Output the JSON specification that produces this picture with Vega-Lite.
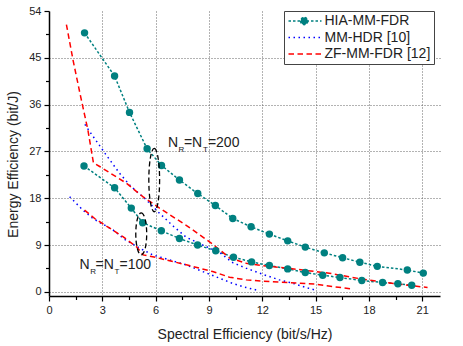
{
  "$schema": "https://vega.github.io/schema/vega-lite/v6.json",
  "width": 391,
  "height": 285,
  "autosize": {"type": "none"},
  "padding": {"left": 49, "top": 11, "right": 23, "bottom": 50},
  "background": "white",
  "config": {"font": "Liberation Sans", "view": {"stroke": null}},
  "datasets": {
    "curves": [
      {"s": "HIA-MM-FDR", "n": 200, "x": 2.0, "y": 49.8},
      {"s": "HIA-MM-FDR", "n": 200, "x": 3.69, "y": 41.5},
      {"s": "HIA-MM-FDR", "n": 200, "x": 4.53, "y": 34.5},
      {"s": "HIA-MM-FDR", "n": 200, "x": 5.52, "y": 27.5},
      {"s": "HIA-MM-FDR", "n": 200, "x": 6.33, "y": 24.3},
      {"s": "HIA-MM-FDR", "n": 200, "x": 7.34, "y": 21.5},
      {"s": "HIA-MM-FDR", "n": 200, "x": 8.37, "y": 18.9},
      {"s": "HIA-MM-FDR", "n": 200, "x": 9.36, "y": 16.6},
      {"s": "HIA-MM-FDR", "n": 200, "x": 10.34, "y": 14.1},
      {"s": "HIA-MM-FDR", "n": 200, "x": 11.37, "y": 12.5},
      {"s": "HIA-MM-FDR", "n": 200, "x": 12.4, "y": 11.1},
      {"s": "HIA-MM-FDR", "n": 200, "x": 13.43, "y": 9.8},
      {"s": "HIA-MM-FDR", "n": 200, "x": 14.42, "y": 8.6},
      {"s": "HIA-MM-FDR", "n": 200, "x": 15.49, "y": 7.5},
      {"s": "HIA-MM-FDR", "n": 200, "x": 16.52, "y": 6.55},
      {"s": "HIA-MM-FDR", "n": 200, "x": 17.49, "y": 5.7},
      {"s": "HIA-MM-FDR", "n": 200, "x": 18.47, "y": 4.9},
      {"s": "HIA-MM-FDR", "n": 200, "x": 20.16, "y": 4.2},
      {"s": "HIA-MM-FDR", "n": 200, "x": 21.06, "y": 3.6},
      {"s": "HIA-MM-FDR", "n": 100, "x": 1.97, "y": 24.2},
      {"s": "HIA-MM-FDR", "n": 100, "x": 3.69, "y": 20.0},
      {"s": "HIA-MM-FDR", "n": 100, "x": 4.63, "y": 16.1},
      {"s": "HIA-MM-FDR", "n": 100, "x": 5.27, "y": 13.3},
      {"s": "HIA-MM-FDR", "n": 100, "x": 6.32, "y": 11.75},
      {"s": "HIA-MM-FDR", "n": 100, "x": 7.34, "y": 10.25},
      {"s": "HIA-MM-FDR", "n": 100, "x": 8.36, "y": 9.0},
      {"s": "HIA-MM-FDR", "n": 100, "x": 9.38, "y": 7.9},
      {"s": "HIA-MM-FDR", "n": 100, "x": 10.38, "y": 6.65},
      {"s": "HIA-MM-FDR", "n": 100, "x": 11.4, "y": 5.76},
      {"s": "HIA-MM-FDR", "n": 100, "x": 12.4, "y": 5.05},
      {"s": "HIA-MM-FDR", "n": 100, "x": 13.43, "y": 4.41},
      {"s": "HIA-MM-FDR", "n": 100, "x": 14.42, "y": 3.71},
      {"s": "HIA-MM-FDR", "n": 100, "x": 15.4, "y": 3.2},
      {"s": "HIA-MM-FDR", "n": 100, "x": 16.37, "y": 2.75},
      {"s": "HIA-MM-FDR", "n": 100, "x": 17.6, "y": 2.17},
      {"s": "HIA-MM-FDR", "n": 100, "x": 18.77, "y": 1.79},
      {"s": "HIA-MM-FDR", "n": 100, "x": 19.63, "y": 1.54},
      {"s": "HIA-MM-FDR", "n": 100, "x": 20.41, "y": 1.28},
      {"s": "MM-HDR [10]", "n": 200, "x": 2.02, "y": 32.2},
      {"s": "MM-HDR [10]", "n": 200, "x": 2.29, "y": 30.8},
      {"s": "MM-HDR [10]", "n": 200, "x": 2.77, "y": 28.5},
      {"s": "MM-HDR [10]", "n": 200, "x": 3.22, "y": 26.3},
      {"s": "MM-HDR [10]", "n": 200, "x": 3.97, "y": 22.8},
      {"s": "MM-HDR [10]", "n": 200, "x": 4.6, "y": 20.3},
      {"s": "MM-HDR [10]", "n": 200, "x": 5.47, "y": 17.7},
      {"s": "MM-HDR [10]", "n": 200, "x": 6.22, "y": 15.1},
      {"s": "MM-HDR [10]", "n": 200, "x": 7.0, "y": 12.6},
      {"s": "MM-HDR [10]", "n": 200, "x": 7.72, "y": 10.5},
      {"s": "MM-HDR [10]", "n": 200, "x": 8.84, "y": 8.7},
      {"s": "MM-HDR [10]", "n": 200, "x": 9.59, "y": 7.6},
      {"s": "MM-HDR [10]", "n": 200, "x": 10.34, "y": 5.6},
      {"s": "MM-HDR [10]", "n": 200, "x": 11.09, "y": 4.55},
      {"s": "MM-HDR [10]", "n": 200, "x": 12.0, "y": 3.4},
      {"s": "MM-HDR [10]", "n": 200, "x": 12.96, "y": 2.3},
      {"s": "MM-HDR [10]", "n": 200, "x": 13.7, "y": 1.67},
      {"s": "MM-HDR [10]", "n": 200, "x": 14.46, "y": 0.83},
      {"s": "MM-HDR [10]", "n": 200, "x": 15.02, "y": 0.3},
      {"s": "MM-HDR [10]", "n": 100, "x": 1.16, "y": 18.3},
      {"s": "MM-HDR [10]", "n": 100, "x": 1.91, "y": 15.7},
      {"s": "MM-HDR [10]", "n": 100, "x": 2.47, "y": 14.1},
      {"s": "MM-HDR [10]", "n": 100, "x": 3.6, "y": 11.9},
      {"s": "MM-HDR [10]", "n": 100, "x": 4.25, "y": 10.1},
      {"s": "MM-HDR [10]", "n": 100, "x": 5.1, "y": 8.4},
      {"s": "MM-HDR [10]", "n": 100, "x": 5.84, "y": 7.1},
      {"s": "MM-HDR [10]", "n": 100, "x": 6.78, "y": 6.14},
      {"s": "MM-HDR [10]", "n": 100, "x": 7.72, "y": 5.18},
      {"s": "MM-HDR [10]", "n": 100, "x": 8.65, "y": 3.9},
      {"s": "MM-HDR [10]", "n": 100, "x": 9.59, "y": 2.63},
      {"s": "MM-HDR [10]", "n": 100, "x": 10.34, "y": 1.6},
      {"s": "MM-HDR [10]", "n": 100, "x": 11.09, "y": 0.83},
      {"s": "MM-HDR [10]", "n": 100, "x": 11.74, "y": 0.3},
      {"s": "ZF-MM-FDR [12]", "n": 200, "x": 0.98, "y": 51.4},
      {"s": "ZF-MM-FDR [12]", "n": 200, "x": 1.35, "y": 44.6},
      {"s": "ZF-MM-FDR [12]", "n": 200, "x": 1.82, "y": 36.9},
      {"s": "ZF-MM-FDR [12]", "n": 200, "x": 2.19, "y": 31.1},
      {"s": "ZF-MM-FDR [12]", "n": 200, "x": 2.44, "y": 26.0},
      {"s": "ZF-MM-FDR [12]", "n": 200, "x": 2.5, "y": 24.8},
      {"s": "ZF-MM-FDR [12]", "n": 200, "x": 2.85, "y": 24.1},
      {"s": "ZF-MM-FDR [12]", "n": 200, "x": 4.35, "y": 20.9},
      {"s": "ZF-MM-FDR [12]", "n": 200, "x": 5.28, "y": 18.3},
      {"s": "ZF-MM-FDR [12]", "n": 200, "x": 6.22, "y": 16.1},
      {"s": "ZF-MM-FDR [12]", "n": 200, "x": 7.72, "y": 12.8},
      {"s": "ZF-MM-FDR [12]", "n": 200, "x": 9.2, "y": 9.2},
      {"s": "ZF-MM-FDR [12]", "n": 200, "x": 10.17, "y": 6.5},
      {"s": "ZF-MM-FDR [12]", "n": 200, "x": 11.09, "y": 5.5},
      {"s": "ZF-MM-FDR [12]", "n": 200, "x": 12.02, "y": 5.05},
      {"s": "ZF-MM-FDR [12]", "n": 200, "x": 13.9, "y": 4.35},
      {"s": "ZF-MM-FDR [12]", "n": 200, "x": 15.77, "y": 3.58},
      {"s": "ZF-MM-FDR [12]", "n": 200, "x": 17.64, "y": 2.43},
      {"s": "ZF-MM-FDR [12]", "n": 200, "x": 19.52, "y": 1.54},
      {"s": "ZF-MM-FDR [12]", "n": 200, "x": 21.3, "y": 0.83},
      {"s": "ZF-MM-FDR [12]", "n": 100, "x": 2.0, "y": 15.7},
      {"s": "ZF-MM-FDR [12]", "n": 100, "x": 2.57, "y": 14.1},
      {"s": "ZF-MM-FDR [12]", "n": 100, "x": 3.3, "y": 12.5},
      {"s": "ZF-MM-FDR [12]", "n": 100, "x": 4.16, "y": 10.6},
      {"s": "ZF-MM-FDR [12]", "n": 100, "x": 4.91, "y": 8.7},
      {"s": "ZF-MM-FDR [12]", "n": 100, "x": 5.3, "y": 7.1},
      {"s": "ZF-MM-FDR [12]", "n": 100, "x": 6.03, "y": 6.6},
      {"s": "ZF-MM-FDR [12]", "n": 100, "x": 7.72, "y": 5.2},
      {"s": "ZF-MM-FDR [12]", "n": 100, "x": 9.21, "y": 3.9},
      {"s": "ZF-MM-FDR [12]", "n": 100, "x": 10.15, "y": 2.82},
      {"s": "ZF-MM-FDR [12]", "n": 100, "x": 11.09, "y": 2.3},
      {"s": "ZF-MM-FDR [12]", "n": 100, "x": 12.4, "y": 1.98},
      {"s": "ZF-MM-FDR [12]", "n": 100, "x": 13.52, "y": 1.79},
      {"s": "ZF-MM-FDR [12]", "n": 100, "x": 15.02, "y": 1.47},
      {"s": "ZF-MM-FDR [12]", "n": 100, "x": 15.96, "y": 1.02},
      {"s": "ZF-MM-FDR [12]", "n": 100, "x": 16.99, "y": 0.58}
    ],
    "ann": [
      {"x": 6.69, "y": 27.9, "num": "=200"},
      {"x": 1.72, "y": 4.36, "num": "=100"}
    ],
    "ell": [
      {"n": 200, "x": 5.92, "y": 21.5},
      {"n": 100, "x": 5.19, "y": 11.15}
    ]
  },
  "encoding": {
    "x": {
      "field": "x", "type": "quantitative",
      "scale": {"domain": [0, 22], "nice": false, "zero": false},
      "axis": {
        "title": "Spectral Efficiency (bit/s/Hz)",
        "values": [0, 1.5, 3, 4.5, 6, 7.5, 9, 10.5, 12, 13.5, 15, 16.5, 18, 19.5, 21],
        "labelExpr": "datum.value % 3 === 0 ? datum.label : ''",
        "tickSize": {"condition": {"test": "datum.value % 3 === 0", "value": 5}, "value": 3.5},
        "grid": true,
        "gridDash": [1, 2],
        "gridColor": "#666",
        "gridWidth": 1,
        "gridOpacity": {"condition": {"test": "datum.value % 3 === 0 && datum.value > 0", "value": 1}, "value": 0},
        "domainColor": "black", "domainWidth": 1.5,
        "tickColor": "black", "tickWidth": 1.2,
        "labelFontSize": 11, "labelColor": "#222", "labelPadding": 3, "labelFlush": false,
        "titleFontSize": 14, "titleFontWeight": "normal", "titleColor": "#222", "titlePadding": 12
      }
    },
    "y": {
      "field": "y", "type": "quantitative",
      "scale": {"domain": [-0.8, 54], "nice": false, "zero": false},
      "axis": {
        "title": "Energy Efficiency (bit/J)",
        "values": [0, 4.5, 9, 13.5, 18, 22.5, 27, 31.5, 36, 40.5, 45, 49.5, 54],
        "labelExpr": "datum.value % 9 === 0 ? datum.label : ''",
        "tickSize": {"condition": {"test": "datum.value % 9 === 0", "value": 5}, "value": 3.5},
        "grid": true,
        "gridDash": [1, 2],
        "gridColor": "#666",
        "gridWidth": 1,
        "gridOpacity": {"condition": {"test": "datum.value % 9 === 0 && datum.value < 54", "value": 1}, "value": 0},
        "domainColor": "black", "domainWidth": 1.5,
        "tickColor": "black", "tickWidth": 1.2,
        "labelFontSize": 11, "labelColor": "#222", "labelPadding": 3, "labelFlush": false,
        "titleFontSize": 14, "titleFontWeight": "normal", "titleColor": "#222",
        "titleX": -36, "titleY": 153, "titleAlign": "center", "titleBaseline": "middle", "titleAngle": -90
      }
    }
  },
  "layer": [
    {
      "data": {"name": "curves"},
      "mark": {"type": "line", "strokeWidth": 1.5},
      "encoding": {
        "color": {
          "field": "s", "type": "nominal",
          "scale": {"domain": ["HIA-MM-FDR", "MM-HDR [10]", "ZF-MM-FDR [12]"], "range": ["#008080", "#0000FF", "#FF0000"]},
          "legend": {
            "title": null, "orient": "none", "legendX": 235, "legendY": 0,
            "padding": 3, "rowPadding": 2.5, "strokeColor": "#444", "fillColor": "white",
            "labelFontSize": 14, "labelColor": "#222", "labelOffset": 23.5,
            "symbolType": "M-1,0H5", "symbolSize": 121, "symbolStrokeWidth": 1.5
          }
        },
        "strokeDash": {
          "field": "s", "type": "nominal",
          "scale": {"domain": ["HIA-MM-FDR", "MM-HDR [10]", "ZF-MM-FDR [12]"], "range": [[2.5, 2], [1.5, 3.5], [5.5, 3.5]]},
          "legend": {
            "title": null, "orient": "none", "legendX": 235, "legendY": 0,
            "padding": 3, "rowPadding": 2.5, "strokeColor": "#444", "fillColor": "white",
            "labelFontSize": 14, "labelColor": "#222", "labelOffset": 23.5,
            "symbolType": "M-1,0H5", "symbolSize": 121, "symbolStrokeWidth": 1.5
          }
        },
        "detail": {"field": "n", "type": "nominal"}
      }
    },
    {
      "data": {"name": "curves"},
      "transform": [{"filter": "datum.x < -100"}],
      "mark": {"type": "point", "filled": true, "opacity": 1, "strokeWidth": 1.5},
      "encoding": {
        "color": {
          "field": "s", "type": "nominal",
          "scale": {"domain": ["HIA-MM-FDR", "MM-HDR [10]", "ZF-MM-FDR [12]"], "range": ["#008080", "#0000FF", "#FF0000"]},
          "legend": {
            "title": null, "orient": "none", "legendX": 235, "legendY": 0,
            "padding": 3, "rowPadding": 2.5, "strokeColor": "#444", "fillColor": "white",
            "labelFontSize": 14, "labelColor": "#222", "labelOffset": 23.5,
            "symbolType": "M-1,0H5", "symbolSize": 121, "symbolStrokeWidth": 1.5
          }
        },
        "shape": {
          "field": "s", "type": "nominal",
          "scale": {"domain": ["HIA-MM-FDR", "MM-HDR [10]", "ZF-MM-FDR [12]"], "range": ["M-1,0H5M2.52,0L2.43,0.335L2.185,0.58L1.85,0.67L1.515,0.58L1.27,0.335L1.18,0L1.27,-0.335L1.515,-0.58L1.85,-0.67L2.185,-0.58L2.43,-0.335Z", "M-1,0H5", "M-1,0H5"]},
          "legend": {
            "title": null, "orient": "none", "legendX": 235, "legendY": 0,
            "padding": 3, "rowPadding": 2.5, "strokeColor": "#444", "fillColor": "white",
            "labelFontSize": 14, "labelColor": "#222", "labelOffset": 23.5,
            "symbolType": "M-1,0H5", "symbolSize": 121, "symbolStrokeWidth": 1.5
          }
        }
      }
    },
    {
      "data": {"name": "curves"},
      "transform": [{"filter": "datum.s === 'HIA-MM-FDR'"}],
      "mark": {"type": "point", "filled": true, "shape": "circle", "size": 55, "color": "#008080", "opacity": 1}
    },
    {
      "data": {"name": "ell"},
      "transform": [{"filter": "datum.n === 200"}],
      "mark": {"type": "point", "filled": false, "shape": "M0,-1A0.17,1 0 1,1 0,1A0.17,1 0 1,1 0,-1Z", "size": 4020, "stroke": "black", "strokeWidth": 1.3, "strokeDash": [5, 3], "opacity": 1}
    },
    {
      "data": {"name": "ell"},
      "transform": [{"filter": "datum.n === 100"}],
      "mark": {"type": "point", "filled": false, "shape": "M0,-1A0.26,1 0 1,1 0,1A0.26,1 0 1,1 0,-1Z", "size": 1764, "stroke": "black", "strokeWidth": 1.3, "strokeDash": [5, 3], "opacity": 1}
    },
    {
      "data": {"name": "ann"},
      "mark": {"type": "text", "text": "N", "align": "left", "baseline": "alphabetic", "fontSize": 14, "color": "#222"}
    },
    {
      "data": {"name": "ann"},
      "mark": {"type": "text", "text": "R", "align": "left", "baseline": "alphabetic", "fontSize": 8, "dx": 10.7, "dy": 5, "color": "#222"}
    },
    {
      "data": {"name": "ann"},
      "mark": {"type": "text", "text": "=N", "align": "left", "baseline": "alphabetic", "fontSize": 14, "dx": 16, "color": "#222"}
    },
    {
      "data": {"name": "ann"},
      "mark": {"type": "text", "text": "T", "align": "left", "baseline": "alphabetic", "fontSize": 8, "dx": 35, "dy": 5, "color": "#222"}
    },
    {
      "data": {"name": "ann"},
      "mark": {"type": "text", "align": "left", "baseline": "alphabetic", "fontSize": 14, "dx": 40, "color": "#222"},
      "encoding": {"text": {"field": "num"}}
    }
  ]
}
